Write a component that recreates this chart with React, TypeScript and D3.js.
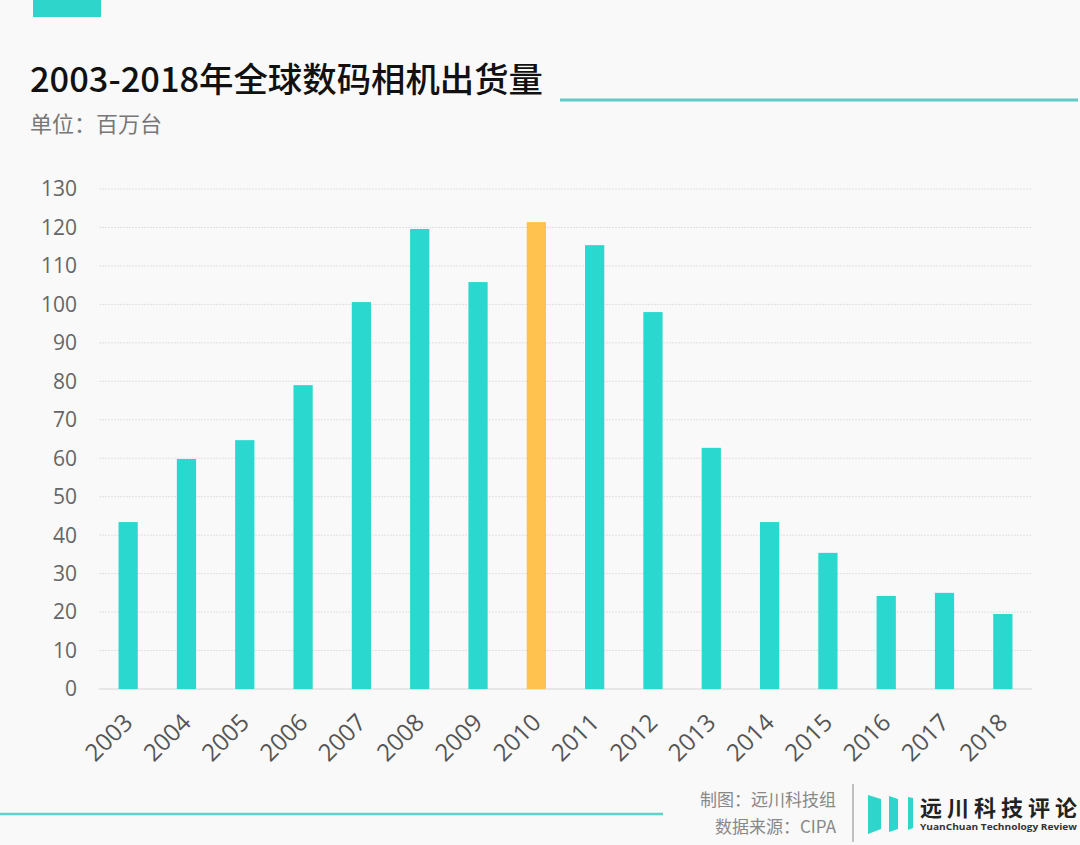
import React from "react";
import * as d3 from "d3";

const years = ["2003","2004","2005","2006","2007","2008","2009","2010","2011","2012","2013","2014","2015","2016","2017","2018"];
const shipments = [43.4,59.8,64.7,79.0,100.6,119.6,105.8,121.4,115.4,98.0,62.7,43.4,35.4,24.2,25.0,19.5];
const highlightYear = "2010";
const yTicks = [0,10,20,30,40,50,60,70,80,90,100,110,120,130];

const W = 1080, H = 845;
const FONT = "'Noto Sans CJK SC', 'Open Sans', sans-serif";

export default function App() {
  const x = d3.scaleBand<string>().domain(years).range([99, 1032]).paddingInner(0.67).paddingOuter(0.335);
  const y = d3.scaleLinear().domain([0, 130]).range([689, 189]);
  const teal = "#2ad8cf";
  const orange = "#ffc24f";
  return (
    <svg width={W} height={H} style={{ position: "absolute", left: 0, top: 0, background: "#f9f9f9" }} fontFamily={FONT}>
      <rect x={0} y={0} width={W} height={H} fill="#f9f9f9" />
      <rect x={33} y={0} width={68} height={17} fill="#2ed5cb" />
      <text x={30} y={92} fontSize={34} fontWeight={500} fill="#111" textLength={513} lengthAdjust="spacingAndGlyphs">2003-2018年全球数码相机出货量</text>
      <line x1={560} x2={1078} y1={100} y2={100} stroke="#62cbc7" strokeWidth={3} />
      <text x={30} y={132} fontSize={22} fill="#777">单位：百万台</text>

      {yTicks.map(t => (
        <g key={t}>
          <line x1={99} x2={1032} y1={y(t)} y2={y(t)} stroke={t === 0 ? "#d4d4d4" : "#e0e0e0"} strokeWidth={1} strokeDasharray={t === 0 ? undefined : "2,1"} />
          <text x={77} y={y(t)} dy="0.35em" textAnchor="end" fontSize={21} fill="#666" fontFamily="'Open Sans', sans-serif">{t}</text>
        </g>
      ))}

      {years.map((yr, i) => (
        <rect key={yr} x={x(yr)} y={y(shipments[i])} width={x.bandwidth()} height={y(0) - y(shipments[i])}
          fill={yr === highlightYear ? orange : teal} />
      ))}

      {years.map(yr => {
        const cx = (x(yr) as number) + x.bandwidth() / 2 + 6;
        return (
          <text key={yr} transform={`translate(${cx},${724}) rotate(-45)`} textAnchor="end" fontSize={24} fill="#555" fontFamily="'Open Sans', sans-serif">{yr}</text>
        );
      })}

      <line x1={0} x2={663} y1={814} y2={814} stroke="#5fd4cc" strokeWidth={2.5} />
      <text x={836} y={806} textAnchor="end" fontSize={17} fill="#888">制图：远川科技组</text>
      <text x={836} y={833} textAnchor="end" fontSize={17} fill="#888">数据来源：CIPA</text>
      <line x1={853} x2={853} y1={784} y2={842} stroke="#999" strokeWidth={1.2} />
      <polygon points="868,795 881,799 881,829 868,834" fill="#2ed5cb" />
      <polygon points="889,796 898,799 898,829 889,832" fill="#2ed5cb" />
      <polygon points="908,797 913,798 913,828 908,830" fill="#2ed5cb" />
      <text x={920} y={816} fontSize={22} fontWeight={700} fill="#222" textLength={157} lengthAdjust="spacing">远川科技评论</text>
      <text x={920} y={830} fontSize={9.5} fontWeight={700} fill="#333" fontFamily="'Open Sans', sans-serif" textLength={157} lengthAdjust="spacingAndGlyphs">YuanChuan Technology Review</text>
    </svg>
  );
}
